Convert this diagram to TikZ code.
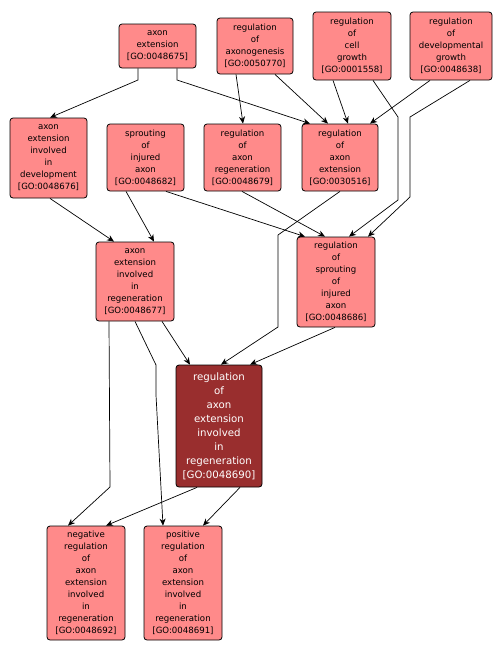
\documentclass[tikz,border=0pt]{standalone}
\usepackage{fontspec}
\setmainfont{DejaVu Sans}
\usetikzlibrary{arrows.meta}
\definecolor{lightgo}{RGB}{255,138,138}
\definecolor{darkgo}{RGB}{153,46,46}
\begin{document}
\begin{tikzpicture}[x=1pt,y=-1pt,
  gobox/.style={draw=black,line width=0.8pt,rounded corners=3pt,fill=lightgo,align=center,
    inner sep=0pt,font=\fontsize{8.6}{12}\selectfont,text=black},
  godark/.style={gobox,fill=darkgo,text=white,font=\fontsize{10.2}{14}\selectfont},
  edge/.style={draw=black,line width=0.7pt,-{Stealth[length=7pt,width=6pt]}}]
\useasboundingbox (0,0) rectangle (502,654);
\node[gobox,minimum width=77,minimum height=44] (AE) at (157.5,46) {axon\\extension\\{[GO:0048675]}};
\node[gobox,minimum width=76,minimum height=56] (AXG) at (255,46) {regulation\\of\\axonogenesis\\{[GO:0050770]}};
\node[gobox,minimum width=78,minimum height=68] (CG) at (352,46) {regulation\\of\\cell\\growth\\{[GO:0001558]}};
\node[gobox,minimum width=82,minimum height=68] (DG) at (451,46) {regulation\\of\\developmental\\growth\\{[GO:0048638]}};
\node[gobox,minimum width=77,minimum height=80] (AED) at (48.5,158) {axon\\extension\\involved\\in\\development\\{[GO:0048676]}};
\node[gobox,minimum width=77,minimum height=67] (SIA) at (145.5,157.5) {sprouting\\of\\injured\\axon\\{[GO:0048682]}};
\node[gobox,minimum width=77,minimum height=67] (RAR) at (242.5,157.5) {regulation\\of\\axon\\regeneration\\{[GO:0048679]}};
\node[gobox,minimum width=76,minimum height=67] (RAE) at (340,157.5) {regulation\\of\\axon\\extension\\{[GO:0030516]}};
\node[gobox,minimum width=78,minimum height=79] (AER) at (135,281.5) {axon\\extension\\involved\\in\\regeneration\\{[GO:0048677]}};
\node[gobox,minimum width=78,minimum height=90] (RSIA) at (336,282) {regulation\\of\\sprouting\\of\\injured\\axon\\{[GO:0048686]}};
\node[godark,minimum width=86,minimum height=122] (DARK) at (219,426) {regulation\\of\\axon\\extension\\involved\\in\\regeneration\\{[GO:0048690]}};
\node[gobox,minimum width=78,minimum height=114] (NEG) at (86,583) {negative\\regulation\\of\\axon\\extension\\involved\\in\\regeneration\\{[GO:0048692]}};
\node[gobox,minimum width=78,minimum height=114] (POS) at (183,583) {positive\\regulation\\of\\axon\\extension\\involved\\in\\regeneration\\{[GO:0048691]}};
% edges
\draw[edge] ([xshift=-19.5]AE.south) -- (138,80) -- ([xshift=1.5]AED.north);
\draw[edge] ([xshift=19.5]AE.south) -- (177,80) -- ([xshift=-30]RAE.north);
\draw[edge] ([xshift=-19]AXG.south) -- ([xshift=0.5]RAR.north);
\draw[edge] ([xshift=20]AXG.south) -- ([xshift=-12]RAE.north);
\draw[edge] ([xshift=-19]CG.south) -- ([xshift=8]RAE.north);
\draw[edge] ([xshift=21]CG.south) -- (398,117) -- (398,200) -- ([xshift=13]RSIA.north);
\draw[edge] ([xshift=-21]DG.south) -- ([xshift=30]RAE.north);
\draw[edge] ([xshift=19]DG.south) -- (410,117) -- (410,197) -- ([xshift=32]RSIA.north);
\draw[edge] ([xshift=1.5]AED.south) -- ([xshift=-21]AER.north);
\draw[edge] ([xshift=-19.5]SIA.south) -- ([xshift=19]AER.north);
\draw[edge] ([xshift=20.5]SIA.south) -- ([xshift=-31]RSIA.north);
\draw[edge] ([xshift=-0.5]RAR.south) -- ([xshift=-11]RSIA.north);
\draw[edge] (RAE.south) -- (278,235) -- (278,327) -- ([xshift=2]DARK.north);
\draw[edge] ([xshift=-1]RSIA.south) -- ([xshift=31]DARK.north);
\draw[edge] ([xshift=27]AER.south) -- ([xshift=-29]DARK.north);
\draw[edge] (AER.south) -- (156,365) -- (156,395) -- ([xshift=-20]POS.north);
\draw[edge] ([xshift=-26]AER.south) -- (110,487) -- ([xshift=-18]NEG.north);
\draw[edge] ([xshift=-22]DARK.south) -- ([xshift=20]NEG.north);
\draw[edge] ([xshift=21]DARK.south) -- ([xshift=20]POS.north);
\end{tikzpicture}
\end{document}
